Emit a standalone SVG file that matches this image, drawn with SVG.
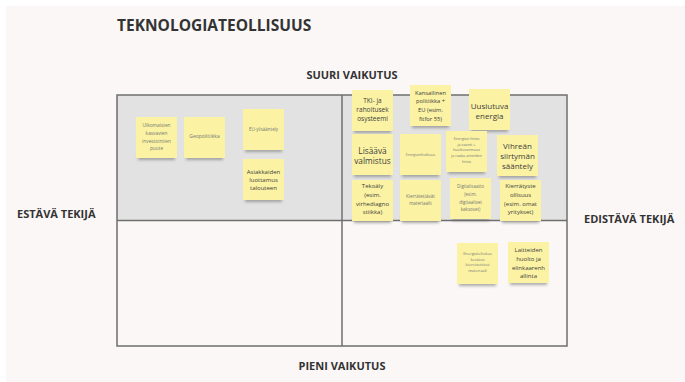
<svg xmlns="http://www.w3.org/2000/svg" width="685" height="382" viewBox="0 0 685 382">
<defs>
<filter id="blur" x="-30%" y="-100%" width="160%" height="300%"><feGaussianBlur stdDeviation="1.6"/></filter>
</defs>
<style>
.lbl{font-family:"Open Sans","Liberation Sans",sans-serif;font-weight:bold;fill:#333;}
.note{fill:#fbf3a3;}
.shd{fill:#6a6a6a;opacity:0.55;filter:url(#blur);}
.nt{font-family:"Open Sans","Liberation Sans",sans-serif;fill:#3d3d3d;text-anchor:middle;dominant-baseline:central;}
.sm{fill:#777;}
.grid{fill:none;stroke:#6f6f6f;stroke-width:1.5;}
</style>
<rect width="685" height="382" fill="#ffffff"/>
<rect x="6" y="6" width="679" height="376" fill="#faf7f6"/>
<text class="lbl" x="117" y="31" font-size="15.5">TEKNOLOGIATEOLLISUUS</text>
<text class="lbl" x="352" y="79" font-size="11" text-anchor="middle">SUURI VAIKUTUS</text>
<text class="lbl" x="342" y="370" font-size="11" text-anchor="middle">PIENI VAIKUTUS</text>
<text class="lbl" x="17" y="218" font-size="11">ESTÄVÄ TEKIJÄ</text>
<text class="lbl" x="584" y="223" font-size="11">EDISTÄVÄ TEKIJÄ</text>
<g id="grid">
<rect x="117" y="95" width="450" height="125.5" fill="#e2e2e2"/>
<rect class="grid" x="117" y="95" width="450" height="251" stroke="#8a8a8a"/>
</g>
<g id="connectors">
<line class="grid" x1="117" y1="220.5" x2="567" y2="220.5" stroke="#555"/>
<line class="grid" x1="342" y1="95" x2="342" y2="346"/>
</g>
<g id="n1"><rect class="shd" x="138" y="153" width="37" height="7"/><rect class="note" x="136" y="117" width="41" height="41"/>
<text class="nt sm" font-size="4.8" x="156.5" y="125"><tspan x="156.5">Ulkomaisten</tspan><tspan x="156.5" dy="7.8">kasvavien</tspan><tspan x="156.5" dy="7.8">investointien</tspan><tspan x="156.5" dy="7.8">puute</tspan></text></g>
<g id="n2"><rect class="shd" x="186" y="153" width="37" height="7"/><rect class="note" x="184" y="117" width="41" height="41"/>
<text class="nt sm" font-size="5" x="204.5" y="136">Geopolitiikka</text></g>
<g id="n3"><rect class="shd" x="245" y="145" width="37" height="7"/><rect class="note" x="243" y="109" width="41" height="41"/>
<text class="nt sm" font-size="4.5" x="263.5" y="129">EU-ylisääntely</text></g>
<g id="n4"><rect class="shd" x="245" y="195" width="37" height="7"/><rect class="note" x="243" y="159" width="41" height="41"/>
<text class="nt" font-size="6" x="263.5" y="171.7"><tspan x="263.5">Asiakkaiden</tspan><tspan x="263.5" dy="8.3">luottamus</tspan><tspan x="263.5" dy="8.3">talouteen</tspan></text></g>
<g id="n5"><rect class="shd" x="354" y="126" width="37" height="7"/><rect class="note" x="352" y="90" width="41" height="41"/>
<text class="nt" font-size="6.5" x="372.5" y="100"><tspan x="372.5">TKI- ja</tspan><tspan x="372.5" dy="9">rahoitusek</tspan><tspan x="372.5" dy="9">osysteemi</tspan></text></g>
<g id="n6"><rect class="shd" x="412" y="121" width="37" height="7"/><rect class="note" x="410" y="85" width="41" height="41"/>
<text class="nt" font-size="5.8" x="430.5" y="92.7"><tspan x="430.5">Kansallinen</tspan><tspan x="430.5" dy="8.6">politiikka +</tspan><tspan x="430.5" dy="8.6">EU (esim.</tspan><tspan x="430.5" dy="8.6">fitfor 55)</tspan></text></g>
<g id="n7"><rect class="shd" x="471" y="125" width="37" height="7"/><rect class="note" x="469" y="89" width="41" height="41"/>
<text class="nt" font-size="8" x="489.5" y="105"><tspan x="489.5">Uusiutuva</tspan><tspan x="489.5" dy="10">energia</tspan></text></g>
<g id="n8"><rect class="shd" x="354" y="170" width="37" height="7"/><rect class="note" x="352" y="134" width="41" height="41"/>
<text class="nt" font-size="8.3" x="372.5" y="150"><tspan x="372.5">Lisäävä</tspan><tspan x="372.5" dy="10">valmistus</tspan></text></g>
<g id="n9"><rect class="shd" x="402" y="170" width="37" height="7"/><rect class="note" x="400" y="134" width="41" height="41"/>
<text class="nt sm" font-size="3.5" x="420.5" y="154">Energiatehokkuus</text></g>
<g id="n10"><rect class="shd" x="448" y="167" width="37" height="7"/><rect class="note" x="446" y="131" width="41" height="41"/>
<text class="nt sm" font-size="3.8" x="466.5" y="137.7"><tspan x="466.5">Energian hinta</tspan><tspan x="466.5" dy="5.8">ja saanti +</tspan><tspan x="466.5" dy="5.8">huoltovarmuus</tspan><tspan x="466.5" dy="5.8">ja raaka-aineiden</tspan><tspan x="466.5" dy="5.8">hinta</tspan></text></g>
<g id="n11"><rect class="shd" x="499" y="171" width="37" height="7"/><rect class="note" x="497" y="135" width="41" height="41"/>
<text class="nt" font-size="8" x="517.5" y="145"><tspan x="517.5">Vihreän</tspan><tspan x="517.5" dy="10">siirtymän</tspan><tspan x="517.5" dy="10">sääntely</tspan></text></g>
<g id="n12"><rect class="shd" x="354" y="216" width="37" height="7"/><rect class="note" x="352" y="180" width="41" height="41"/>
<text class="nt" font-size="6" x="372.5" y="186"><tspan x="372.5">Tekoäly</tspan><tspan x="372.5" dy="8.8">(esim.</tspan><tspan x="372.5" dy="8.8">virhediagno</tspan><tspan x="372.5" dy="8.8">stiikka)</tspan></text></g>
<g id="n13"><rect class="shd" x="402" y="216" width="37" height="7"/><rect class="note" x="400" y="180" width="41" height="41"/>
<text class="nt sm" font-size="4.5" x="420.5" y="196"><tspan x="420.5">Kierrätettävät</tspan><tspan x="420.5" dy="6.7">materiaalit</tspan></text></g>
<g id="n14"><rect class="shd" x="452" y="214" width="37" height="7"/><rect class="note" x="450" y="178" width="41" height="41"/>
<text class="nt sm" font-size="4.5" x="470.5" y="186"><tspan x="470.5">Digitalisaatio</tspan><tspan x="470.5" dy="7.8">(esim.</tspan><tspan x="470.5" dy="7.8">digitaaliset</tspan><tspan x="470.5" dy="7.8">kaksoset)</tspan></text></g>
<g id="n15"><rect class="shd" x="502" y="216" width="37" height="7"/><rect class="note" x="500" y="180" width="41" height="41"/>
<text class="nt" font-size="6" x="520.5" y="186"><tspan x="520.5">Kierrätyste</tspan><tspan x="520.5" dy="8.8">ollisuus</tspan><tspan x="520.5" dy="8.8">(esim. omat</tspan><tspan x="520.5" dy="8.8">yritykset)</tspan></text></g>
<g id="n16"><rect class="shd" x="459" y="279" width="37" height="7"/><rect class="note" x="457" y="243" width="41" height="41"/>
<text class="nt sm" font-size="4" x="477.5" y="253"><tspan x="477.5">Energiatehokas</tspan><tspan x="477.5" dy="5.7">kestävä</tspan><tspan x="477.5" dy="5.7">kierrätettävä</tspan><tspan x="477.5" dy="5.7">materiaali</tspan></text></g>
<g id="n17"><rect class="shd" x="510" y="278" width="37" height="7"/><rect class="note" x="508" y="242" width="41" height="41"/>
<text class="nt" font-size="6" x="528.5" y="250"><tspan x="528.5">Laitteiden</tspan><tspan x="528.5" dy="8.8">huolto ja</tspan><tspan x="528.5" dy="8.8">elinkaarenh</tspan><tspan x="528.5" dy="8.8">allinta</tspan></text></g>
</svg>
